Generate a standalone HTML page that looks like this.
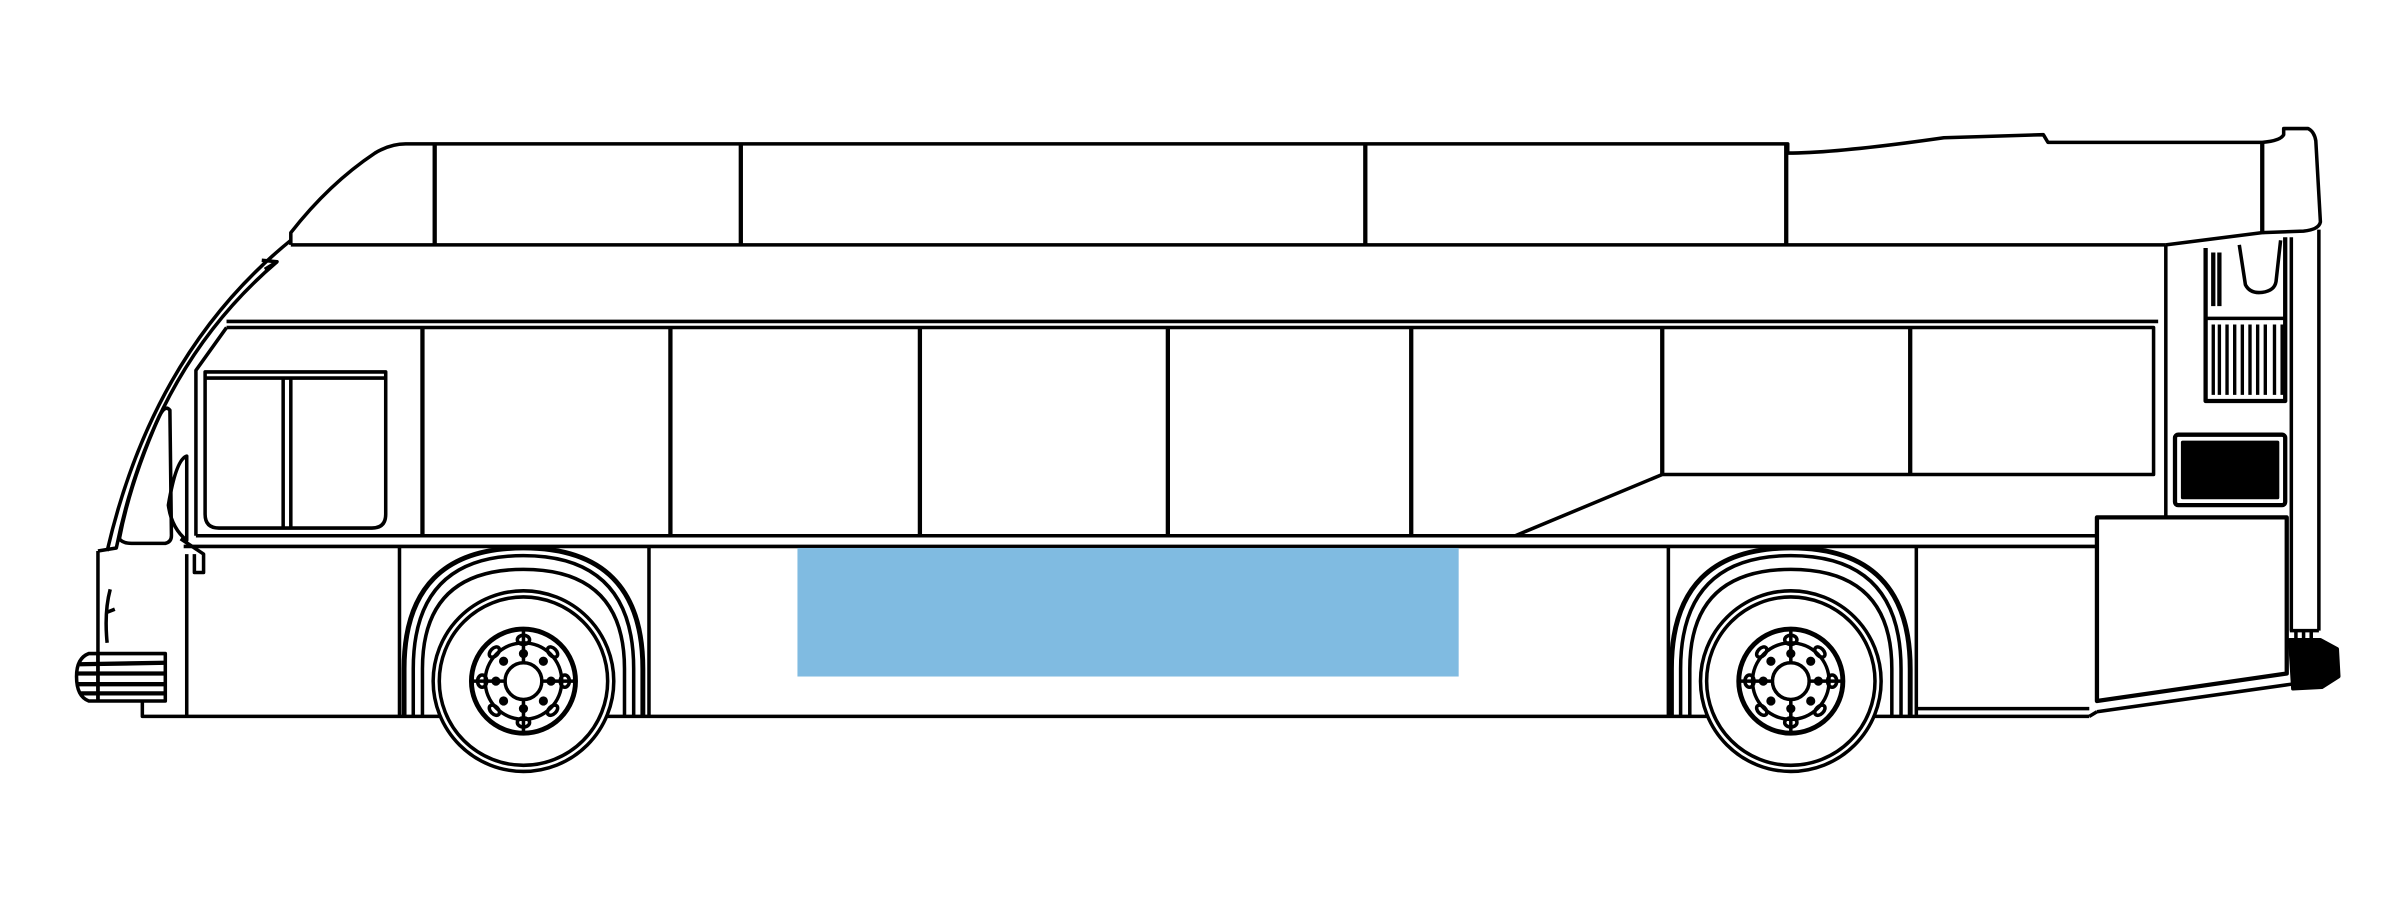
<!DOCTYPE html>
<html><head><meta charset="utf-8"><style>html,body{margin:0;padding:0;background:#fff}svg{display:block}</style></head>
<body>
<svg width="2400" height="900" viewBox="0 0 1568 588" preserveAspectRatio="none" xmlns="http://www.w3.org/2000/svg">
<g fill="none" stroke="#000" stroke-width="2.3" stroke-linejoin="round">
<path d="M190,160 L190,152 Q215,120 245,100 Q255,94 265,94 L284,94 L1168,94 L1168,100 Q1200,100 1270,90 L1335,88 L1338,93 L1478,93 Q1490,92 1492,88 L1492,84 L1508,84 Q1512,86 1513,92 L1516,145 Q1515,150 1505,151 L1478,152 L1415,160"/>
<path d="M190,160 L1415,160"/>
<path d="M284,94V160M484,94V160M892,94V160M1167,94V160M1478,93V153" stroke-width="2.8"/>
<path d="M190,157 Q100,230 70,360"/>
<path d="M181,171 Q100,240 76,358 L64,360"/>
<path d="M171,170 L181,171 L173,176"/>
<path d="M111,268 Q108,264 104,272 Q85,315 78,352 Q80,355 86,355 L108,355 Q112,354 112,350 Z"/>
<path d="M122,298 Q115,300 110,330 Q112,345 122,353 Z"/>
<path d="M148,210 L1410,210"/>
<path d="M148,214 L1407,214 L1407,310 L1086,310 L990,350"/>
<path d="M148,214 L128,242 L128,350"/>
<path d="M276,214V350M438,214V350M601,214V350M763,214V350M922,214V350M1086,214V310M1248,214V310" stroke-width="2.8"/>
<path d="M134,243 L252,243 L252,336 Q252,345 243,345 L143,345 Q134,345 134,336 Z"/>
<path d="M134,247 L252,247"/>
<path d="M185,246V345M190,246V345"/>
<path d="M128,350 L1370,350 M120,357 L1370,357"/>
<path d="M118,352 L133,362 L133,374 L127,374 L127,362"/>
<path d="M64,360 L64,458 M122,362 L122,468 M93,458 L93,468 L1365,468"/>
<path d="M261,357V468M424,357V468M1090,357V468M1252,357V468"/>
<path d="M1252,463 L1365,463"/>
<path d="M72,385 Q68,400 70,420 M70,400 L75,398"/>
<path d="M58,427 L108,427 L108,458 L58,458 Q50,455 50,442 Q50,430 58,427 Z"/>
<path d="M52,434 L108,433 M50,440 L108,440 M50,447 L108,447 M52,453 L108,453" stroke-width="2.8"/>
<path d="M64,427 V458"/>
<path d="M1415,160 V338 M1515,150 V412 M1497,155 V412"/>
<path d="M1370,338 L1494,338 L1494,440 L1370,458 Z" stroke-width="2.8"/>
<path d="M1370,465 L1497,447 M1365,468 L1370,465"/>
<path d="M1441,162 L1441,262 L1493,262 L1493,155" stroke-width="2.8"/>
<path d="M1441,208 L1493,208"/>
<path d="M1446,165V200M1450,165V200" stroke-width="2.8"/>
<path d="M1446,212V258M1450,212V258M1455,212V258M1460,212V258M1465,212V258M1470,212V258M1475,212V258M1480,212V258M1486,212V258M1491,212V258" stroke-width="2.2"/>
<path d="M1463,160 L1467,186 Q1470,192 1478,191 Q1486,190 1487,184 L1490,157"/>
<rect x="1421" y="284" width="72" height="46" rx="2" stroke-width="2.8"/>
<rect x="1426" y="289" width="62" height="36" fill="#000"/>
<path d="M1496,412 L1515,412 M1500,412 V420 M1505,412 V420 M1510,412 V420"/>
<path d="M1496,418 L1516,418 L1527,424 L1528,442 L1517,449 L1498,450 Z" fill="#000"/>
</g>
<rect x="521" y="358" width="432" height="84" fill="#80bbe1"/>
<g id="w" fill="none" stroke="#000" stroke-width="2.3">
<path d="M264,468 L264,437 Q264,358 342,358 Q420,358 420,437 L420,468" stroke-width="3.2"/>
<path d="M270,468 L270,437 Q270,363 342,363 Q414,363 414,437 L414,468"/>
<path d="M276,468 L276,437 Q276,372 342,372 Q408,372 408,437 L408,468" />
<circle cx="342" cy="445" r="59" fill="#fff"/>
<circle cx="342" cy="445" r="55"/>
<circle cx="342" cy="445" r="34" stroke-width="3.2"/>
<circle cx="342" cy="445" r="25"/>
<circle cx="342" cy="445" r="12"/>
<path d="M308,445 L330,445 M354,445 L376,445 M342,411 V433 M342,457 V479"/>
<g fill="#000" stroke="none">
<circle cx="342" cy="427" r="3"/><circle cx="342" cy="463" r="3"/><circle cx="324" cy="445" r="3"/><circle cx="360" cy="445" r="3"/>
<circle cx="329" cy="432" r="3"/><circle cx="355" cy="432" r="3"/><circle cx="329" cy="458" r="3"/><circle cx="355" cy="458" r="3"/>
</g>
<ellipse cx="342" cy="418" rx="4" ry="3"/><ellipse cx="342" cy="472" rx="4" ry="3"/>
<ellipse cx="315" cy="445" rx="3" ry="4"/><ellipse cx="369" cy="445" rx="3" ry="4"/>
<ellipse cx="323" cy="426" rx="4" ry="2.5" transform="rotate(-45 323 426)"/><ellipse cx="361" cy="426" rx="4" ry="2.5" transform="rotate(45 361 426)"/>
<ellipse cx="323" cy="464" rx="4" ry="2.5" transform="rotate(45 323 464)"/><ellipse cx="361" cy="464" rx="4" ry="2.5" transform="rotate(-45 361 464)"/>
</g>
<use href="#w" transform="translate(828,0)"/>
</svg>
</body></html>
